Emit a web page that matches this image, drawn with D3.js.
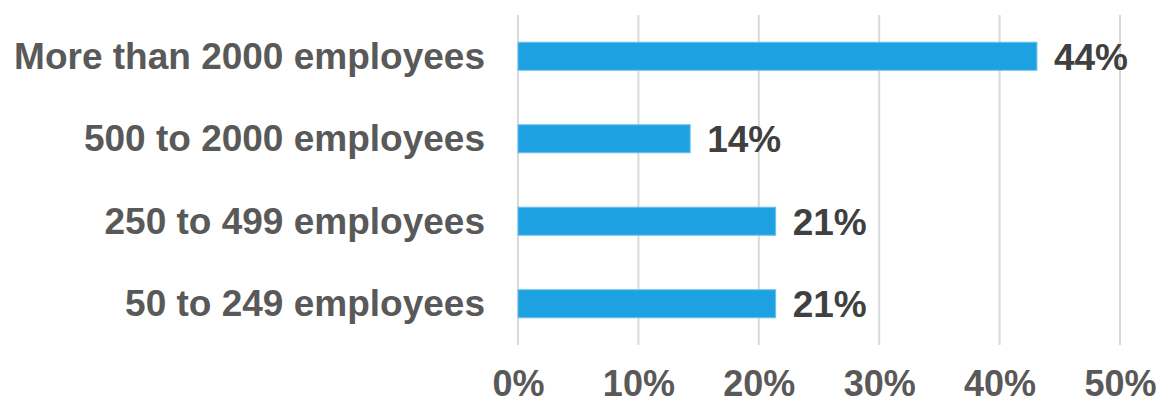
<!DOCTYPE html>
<html>
<head>
<meta charset="utf-8">
<script src="https://cdn.jsdelivr.net/npm/d3@7"></script>
<style>
  body { margin: 0; background: #fff; }
  text { font-family: "Liberation Sans", Arial, sans-serif; font-weight: bold; }
</style>
</head>
<body>
<div class="svg-container"></div>
<script>
// data
const categories = ['More than 2000 employees', '500 to 2000 employees', '250 to 499 employees', '50 to 249 employees'];
const values = [43.1, 14.3, 21.4, 21.4];
const valueLabels = ['44%', '14%', '21%', '21%'];
const ticks = [0, 10, 20, 30, 40, 50];

const svgWidth = 1164;
const svgHeight = 403;
const margin = { top: 15, right: 44, bottom: 58, left: 518 };
const width = svgWidth - margin.left - margin.right;
const height = svgHeight - margin.top - margin.bottom;

const svg = d3.select('.svg-container')
  .append('svg')
  .attr('width', svgWidth)
  .attr('height', svgHeight);
const group = svg.append('g')
  .attr('transform', `translate(${margin.left}, ${margin.top})`);

const x = d3.scaleLinear().domain([0, 50]).range([0, width]);
const y = d3.scaleBand().domain(categories).range([0, height])
  .paddingInner(0.66).paddingOuter(0.33);

// gridlines
group.selectAll('.grid')
  .data(ticks)
  .enter().append('line')
  .attr('x1', (d) => x(d)).attr('x2', (d) => x(d))
  .attr('y1', 0).attr('y2', height)
  .attr('stroke', '#d9d9d9')
  .attr('stroke-width', 2);

// x axis labels
const xAxis = group.append('g')
  .attr('transform', `translate(0, ${height})`)
  .call(d3.axisBottom(x).tickValues(ticks).tickFormat((d) => d + '%').tickSize(0).tickPadding(0));
xAxis.select('.domain').remove();
xAxis.selectAll('text')
  .attr('font-family', null)
  .attr('y', 51)
  .attr('dy', 0)
  .attr('font-size', 36)
  .attr('fill', '#595959');

// y axis labels
const yAxis = group.append('g')
  .call(d3.axisLeft(y).tickSize(0).tickPadding(33));
yAxis.select('.domain').remove();
yAxis.selectAll('text')
  .attr('font-family', null)
  .attr('font-size', 37)
  .attr('dy', '0.34em')
  .attr('fill', '#595959');

// bars
group.selectAll('.bar')
  .data(categories)
  .enter().append('rect')
  .attr('x', x(0))
  .attr('y', (d) => y(d))
  .attr('width', (d, i) => x(values[i]) - x(0))
  .attr('height', y.bandwidth())
  .attr('fill', '#1ea1e0')
  .attr('stroke', '#6cc2ec')
  .attr('stroke-width', 1);

// value labels
group.selectAll('.val')
  .data(categories)
  .enter().append('text')
  .attr('x', (d, i) => x(values[i]) + 17)
  .attr('y', (d) => y(d) + y.bandwidth() / 2)
  .attr('dy', '0.36em')
  .attr('font-size', 37)
  .attr('fill', '#404040')
  .text((d, i) => valueLabels[i]);
</script>
</body>
</html>
